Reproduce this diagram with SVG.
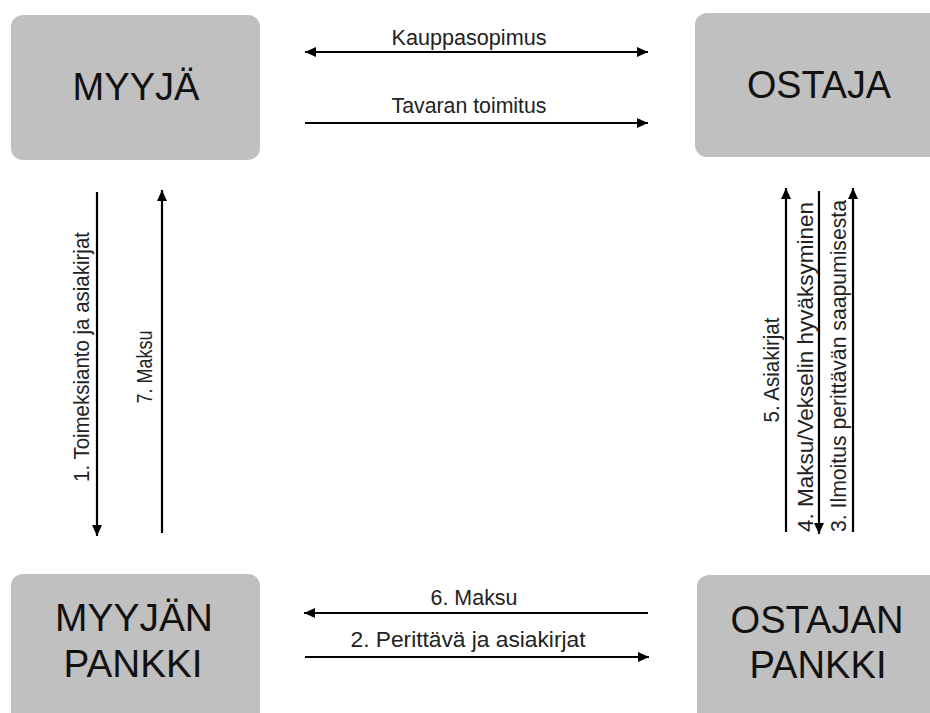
<svg xmlns="http://www.w3.org/2000/svg" width="930" height="713" viewBox="0 0 930 713">
<style>
.box{fill:#c0c0c0}
.lbl{font-family:"Liberation Sans",Arial,sans-serif;font-size:39.5px;fill:#111;text-anchor:middle}
.al{font-family:"Liberation Sans",Arial,sans-serif;font-size:21.5px;fill:#222;text-anchor:middle}
.ln{stroke:#000;stroke-width:2.2;fill:none}
</style>
<defs>
<marker id="ah" markerUnits="userSpaceOnUse" markerWidth="12" markerHeight="10" refX="11" refY="5" orient="auto-start-reverse">
<path d="M0,0 L11,5 L0,10 Z" fill="#000"/>
</marker>
</defs>
<rect width="930" height="713" fill="#fff"/>
<g id="myyja">
<rect class="box" x="11" y="15" width="249" height="145" rx="12"/>
<text class="lbl" x="136" y="100" textLength="127" lengthAdjust="spacingAndGlyphs">MYYJÄ</text>
</g>
<g id="ostaja">
<rect class="box" x="695" y="13" width="250" height="144" rx="12"/>
<text class="lbl" x="819" y="98" textLength="144" lengthAdjust="spacingAndGlyphs">OSTAJA</text>
</g>
<g id="myyjan-pankki">
<rect class="box" x="11" y="574" width="249" height="150" rx="12"/>
<text class="lbl" x="134" y="631" textLength="158" lengthAdjust="spacingAndGlyphs">MYYJÄN</text>
<text class="lbl" x="133" y="677" textLength="139" lengthAdjust="spacingAndGlyphs">PANKKI</text>
</g>
<g id="ostajan-pankki">
<rect class="box" x="697" y="575" width="250" height="150" rx="12"/>
<text class="lbl" x="817" y="633" textLength="173" lengthAdjust="spacingAndGlyphs">OSTAJAN</text>
<text class="lbl" x="818" y="678" textLength="137" lengthAdjust="spacingAndGlyphs">PANKKI</text>
</g>
<g id="connectors">
<line class="ln" x1="305" y1="52" x2="648" y2="52" marker-start="url(#ah)" marker-end="url(#ah)"/>
<text class="al" x="469" y="45" textLength="155" lengthAdjust="spacingAndGlyphs">Kauppasopimus</text>
<line class="ln" x1="305" y1="123" x2="648" y2="123" marker-end="url(#ah)"/>
<text class="al" x="469" y="113" textLength="155" lengthAdjust="spacingAndGlyphs">Tavaran toimitus</text>
<line class="ln" x1="648" y1="613" x2="304" y2="613" marker-end="url(#ah)"/>
<text class="al" x="474" y="605" textLength="87" lengthAdjust="spacingAndGlyphs">6. Maksu</text>
<line class="ln" x1="305" y1="657" x2="649" y2="657" marker-end="url(#ah)"/>
<text class="al" x="468" y="647" textLength="235" lengthAdjust="spacingAndGlyphs">2. Perittävä ja asiakirjat</text>
<line class="ln" x1="97" y1="192" x2="97" y2="536" marker-end="url(#ah)"/>
<text class="al" transform="translate(89,357) rotate(-90)" textLength="250" lengthAdjust="spacingAndGlyphs">1. Toimeksianto ja asiakirjat</text>
<line class="ln" x1="162" y1="533" x2="162" y2="190" marker-end="url(#ah)"/>
<text class="al" transform="translate(152,367) rotate(-90)" textLength="73" lengthAdjust="spacingAndGlyphs">7. Maksu</text>
<line class="ln" x1="786" y1="532" x2="786" y2="188" marker-end="url(#ah)"/>
<text class="al" transform="translate(779,370) rotate(-90)" textLength="105" lengthAdjust="spacingAndGlyphs">5. Asiakirjat</text>
<line class="ln" x1="819" y1="191" x2="819" y2="534" marker-end="url(#ah)"/>
<text class="al" transform="translate(813,367) rotate(-90)" textLength="330" lengthAdjust="spacingAndGlyphs">4. Maksu/Vekselin hyväksyminen</text>
<line class="ln" x1="853" y1="532" x2="853" y2="188" marker-end="url(#ah)"/>
<text class="al" transform="translate(846,366) rotate(-90)" textLength="332" lengthAdjust="spacingAndGlyphs">3. Ilmoitus perittävän saapumisesta</text>
</g>
</svg>
